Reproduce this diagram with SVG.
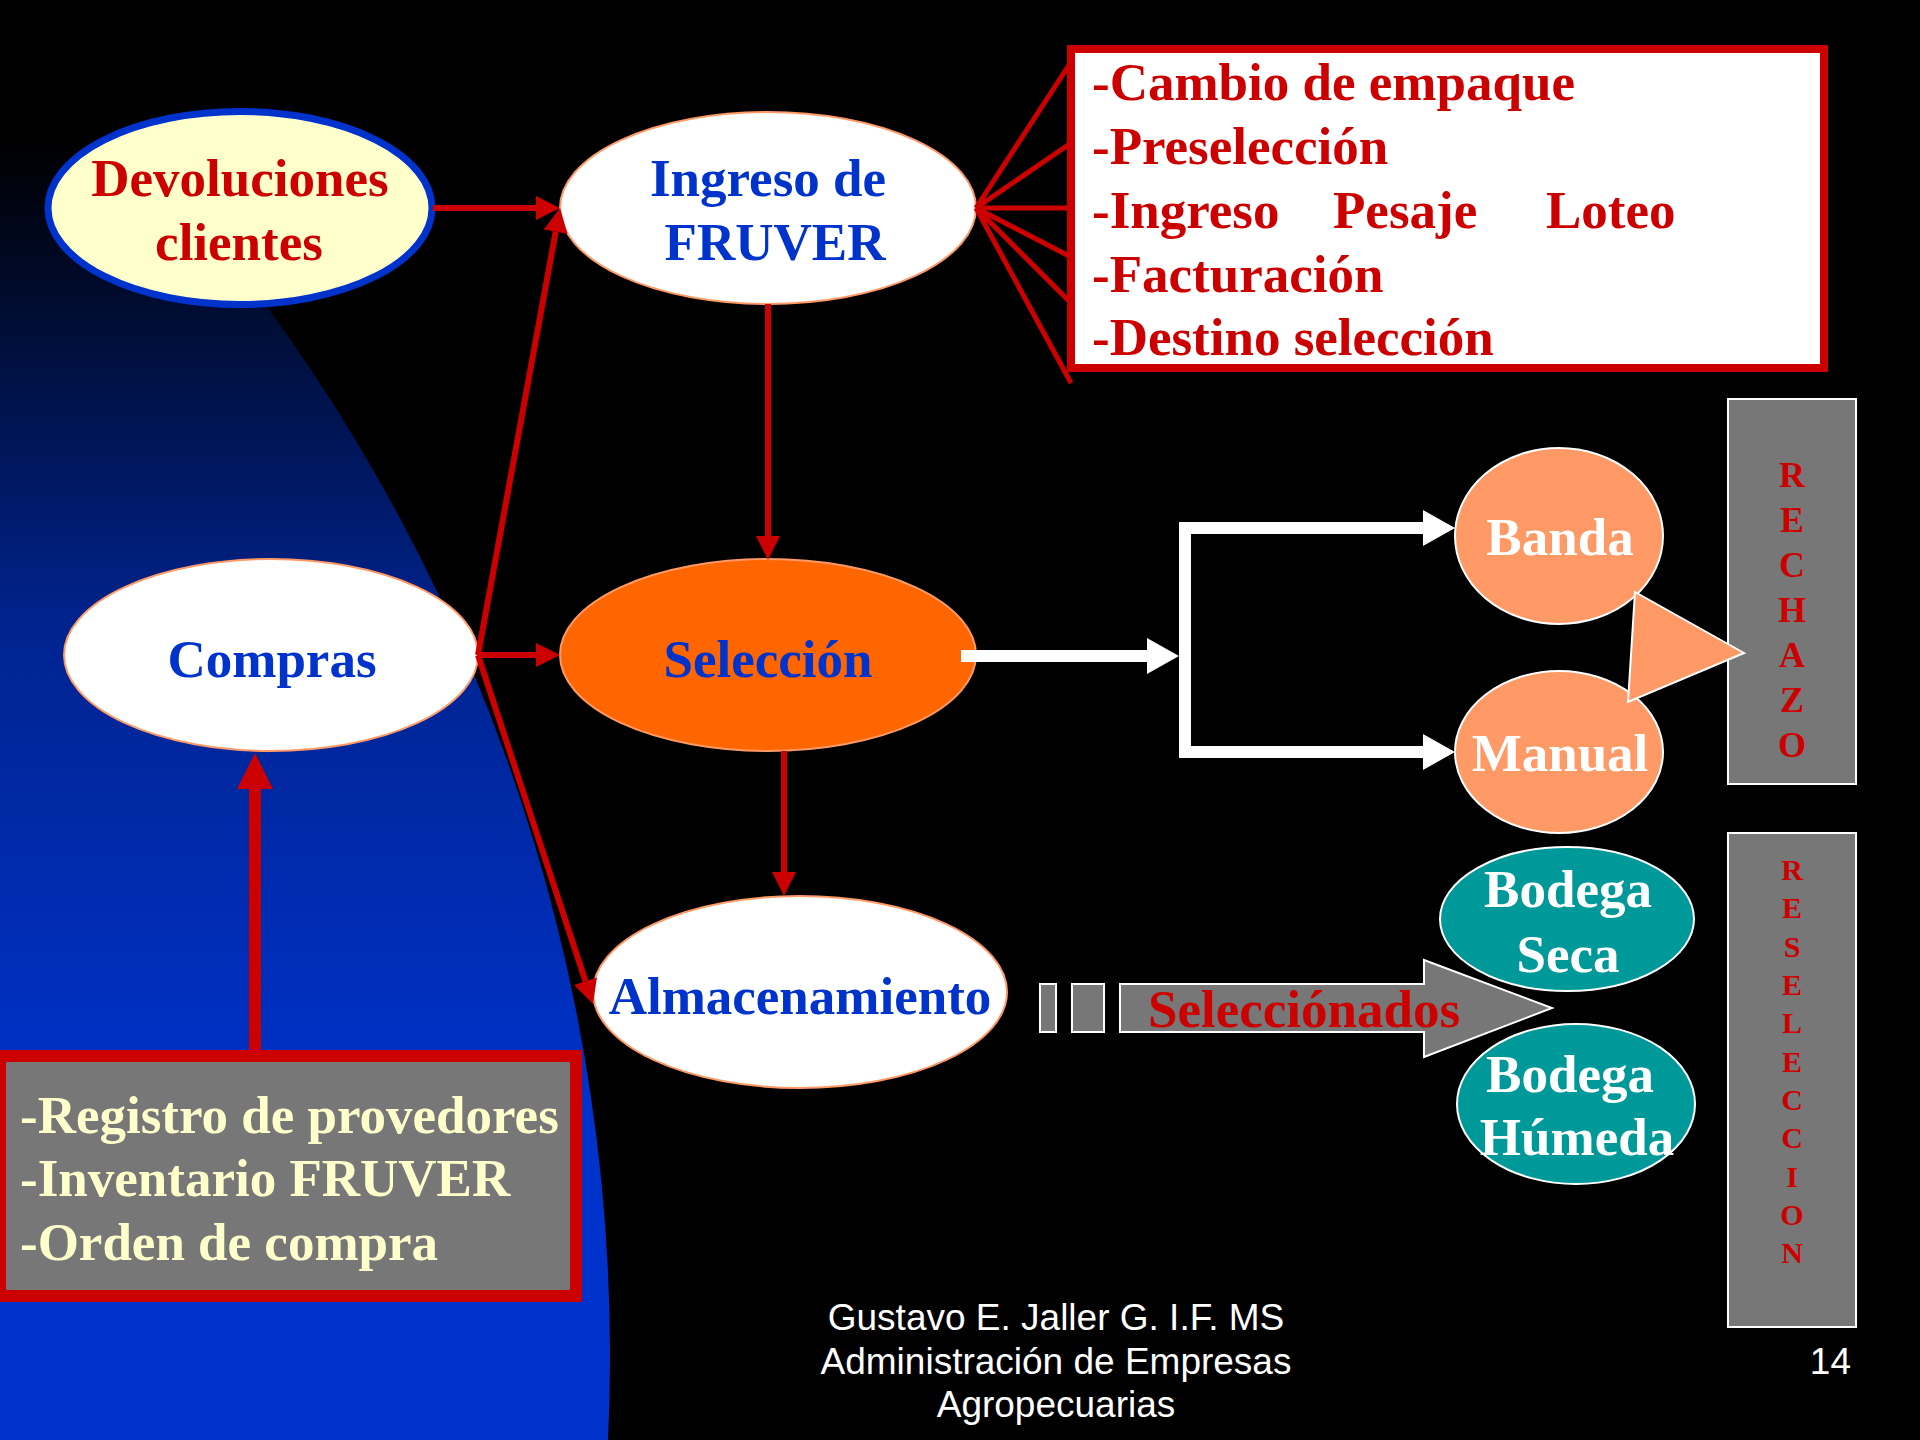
<svg xmlns="http://www.w3.org/2000/svg" width="1920" height="1440" viewBox="0 0 1920 1440">
<defs>
<linearGradient id="bg" gradientUnits="userSpaceOnUse" x1="0" y1="140" x2="0" y2="1120">
<stop offset="0" stop-color="#000000"/>
<stop offset="0.5" stop-color="#00238f"/>
<stop offset="1" stop-color="#0033cc"/>
</linearGradient>
<marker id="ahRed" markerUnits="userSpaceOnUse" markerWidth="26" markerHeight="26" refX="0" refY="12" orient="auto" overflow="visible">
<path d="M0,0 L24,12 L0,24 Z" fill="#cc0000"/>
</marker>
<marker id="ahRedBig" markerUnits="userSpaceOnUse" markerWidth="38" markerHeight="38" refX="0" refY="18" orient="auto" overflow="visible">
<path d="M0,0 L36,18 L0,36 Z" fill="#cc0000"/>
</marker>
<marker id="ahWhite" markerUnits="userSpaceOnUse" markerWidth="34" markerHeight="38" refX="0" refY="18" orient="auto" overflow="visible">
<path d="M0,0 L32,18 L0,36 Z" fill="#ffffff"/>
</marker>
</defs>
<style>
.serif{font-family:"Liberation Serif","Times New Roman",serif;font-weight:bold;}
.sans{font-family:"Liberation Sans",Arial,sans-serif;}
.t53{font-size:53px;}
.blue{fill:#0033cc;}
.red{fill:#cc0000;}
.white{fill:#ffffff;}
.cream{fill:#ffffcc;}
.wellipse{fill:#ffffff;stroke:#ff9966;stroke-width:2;}
.redline{stroke:#cc0000;stroke-width:6;fill:none;}
.fan{stroke:#cc0000;stroke-width:5;fill:none;}
.whiteline{stroke:#ffffff;stroke-width:12;fill:none;stroke-linejoin:miter;}
.greybox{fill:#777777;stroke:#ffffff;stroke-width:2;}
</style>
<rect x="0" y="0" width="1920" height="1440" fill="#000000"/>
<circle cx="-1166" cy="1356" r="1776" fill="url(#bg)"/>

<g id="devoluciones">
<ellipse cx="240" cy="208" rx="192" ry="96.5" fill="#ffffcc" stroke="#0033cc" stroke-width="7"/>
<text class="serif t53 red" x="240" y="196" text-anchor="middle">Devoluciones</text>
<text class="serif t53 red" x="239" y="260" text-anchor="middle">clientes</text>
</g>

<g id="ingreso">
<ellipse class="wellipse" cx="768" cy="208" rx="208" ry="96"/>
<text class="serif t53 blue" x="768" y="196" text-anchor="middle">Ingreso de</text>
<text class="serif t53 blue" x="775" y="260" text-anchor="middle">FRUVER</text>
</g>

<g id="ingreso-tareas">
<rect x="1071" y="49" width="753" height="319" fill="#ffffff" stroke="#cc0000" stroke-width="8"/>
<text class="serif t53 red" x="1092" y="100">-Cambio de empaque</text>
<text class="serif t53 red" x="1092" y="164">-Preselección</text>
<text class="serif t53 red" y="228"><tspan x="1092">-Ingreso</tspan><tspan x="1333">Pesaje</tspan><tspan x="1546">Loteo</tspan></text>
<text class="serif t53 red" x="1092" y="292">-Facturación</text>
<text class="serif t53 red" x="1092" y="355">-Destino selección</text>
</g>

<g id="compras">
<ellipse class="wellipse" cx="271" cy="655" rx="207" ry="96"/>
<text class="serif t53 blue" x="272" y="677" text-anchor="middle">Compras</text>
</g>

<g id="seleccion">
<ellipse cx="768" cy="655" rx="208" ry="96" fill="#ff6600" stroke="#ff9966" stroke-width="2"/>
<text class="serif t53 blue" x="768" y="677" text-anchor="middle">Selección</text>
</g>

<g id="almacenamiento">
<ellipse class="wellipse" cx="800" cy="992" rx="207" ry="96"/>
<text class="serif t53 blue" x="800" y="1014" text-anchor="middle">Almacenamiento</text>
</g>

<g id="compras-tareas">
<rect x="0" y="1056" width="576" height="240" fill="#777777" stroke="#cc0000" stroke-width="12"/>
<text class="serif t53 cream" x="20" y="1133">-Registro de provedores</text>
<text class="serif t53 cream" x="20" y="1196">-Inventario FRUVER</text>
<text class="serif t53 cream" x="20" y="1260">-Orden de compra</text>
</g>

<g id="banda">
<ellipse cx="1559" cy="536" rx="104" ry="88" fill="#ff9966" stroke="#ffffff" stroke-width="2"/>
<text class="serif t53 white" x="1560" y="555" text-anchor="middle">Banda</text>
</g>

<g id="manual">
<ellipse cx="1559" cy="752" rx="104" ry="81" fill="#ff9966" stroke="#ffffff" stroke-width="2"/>
<text class="serif t53 white" x="1560" y="771" text-anchor="middle">Manual</text>
</g>

<g id="rechazo">
<rect class="greybox" x="1728" y="399" width="128" height="385"/>
<g class="serif red" font-size="36" text-anchor="middle">
<text x="1792" y="487">R</text>
<text x="1792" y="532">E</text>
<text x="1792" y="577">C</text>
<text x="1792" y="622">H</text>
<text x="1792" y="667">A</text>
<text x="1792" y="712">Z</text>
<text x="1792" y="757">O</text>
</g>
</g>

<g id="rechazo-flecha">
<polygon points="1635,592 1744,653 1628,702" fill="#ff9966" stroke="#ffffff" stroke-width="2"/>
</g>

<g id="seleccionados">
<rect class="greybox" x="1040" y="984" width="16" height="48"/>
<rect class="greybox" x="1072" y="984" width="32" height="48"/>
<polygon class="greybox" points="1120,984 1424,984 1424,960 1552,1008 1424,1057 1424,1032 1120,1032"/>
<text class="serif t53 red" x="1148" y="1027">Selecciónados</text>
</g>

<g id="bodega-seca">
<ellipse cx="1567" cy="919" rx="127" ry="72" fill="#009999" stroke="#ffffff" stroke-width="2"/>
<text class="serif t53 white" x="1568" y="907" text-anchor="middle">Bodega</text>
<text class="serif t53 white" x="1568" y="972" text-anchor="middle">Seca</text>
</g>

<g id="bodega-humeda">
<ellipse cx="1576" cy="1104" rx="119" ry="80" fill="#009999" stroke="#ffffff" stroke-width="2"/>
<text class="serif t53 white" x="1570" y="1092" text-anchor="middle">Bodega</text>
<text class="serif t53 white" x="1577" y="1155" text-anchor="middle">Húmeda</text>
</g>

<g id="reseleccion">
<rect class="greybox" x="1728" y="833" width="128" height="494"/>
<g class="serif red" font-size="30" text-anchor="middle">
<text x="1792" y="880">R</text>
<text x="1792" y="918">E</text>
<text x="1792" y="957">S</text>
<text x="1792" y="995">E</text>
<text x="1792" y="1033">L</text>
<text x="1792" y="1072">E</text>
<text x="1792" y="1110">C</text>
<text x="1792" y="1148">C</text>
<text x="1792" y="1187">I</text>
<text x="1792" y="1225">O</text>
<text x="1792" y="1263">N</text>
</g>
</g>

<g id="connectors">
<line class="redline" x1="433" y1="208" x2="536" y2="208" marker-end="url(#ahRed)"/>
<line class="redline" x1="478" y1="655" x2="555.7" y2="231.6" marker-end="url(#ahRed)"/>
<line class="redline" x1="478" y1="655" x2="536" y2="655" marker-end="url(#ahRed)"/>
<line class="redline" x1="478" y1="655" x2="585.5" y2="981.2" marker-end="url(#ahRed)"/>
<line class="redline" x1="768" y1="304" x2="768" y2="536" marker-end="url(#ahRed)"/>
<line class="redline" x1="784" y1="751" x2="784" y2="872" marker-end="url(#ahRed)"/>
<line stroke="#cc0000" stroke-width="12" x1="255" y1="1050" x2="255" y2="789" marker-end="url(#ahRedBig)"/>
<line class="fan" x1="976" y1="208" x2="1071" y2="62"/>
<line class="fan" x1="976" y1="208" x2="1071" y2="143"/>
<line class="fan" x1="976" y1="208" x2="1071" y2="208"/>
<line class="fan" x1="976" y1="208" x2="1071" y2="257"/>
<line class="fan" x1="976" y1="208" x2="1071" y2="303"/>
<line class="fan" x1="976" y1="208" x2="1071" y2="383"/>
<line class="whiteline" x1="961" y1="656" x2="1147" y2="656" marker-end="url(#ahWhite)"/>
<path class="whiteline" d="M1185,640 V528 H1423" marker-end="url(#ahWhite)"/>
<path class="whiteline" d="M1185,640 V752 H1423" marker-end="url(#ahWhite)"/>
</g>

<g id="footer">
<text class="sans white" font-size="37" x="1056" y="1330" text-anchor="middle">Gustavo E. Jaller G. I.F. MS</text>
<text class="sans white" font-size="37" x="1056" y="1374" text-anchor="middle">Administración de Empresas</text>
<text class="sans white" font-size="37" x="1056" y="1417" text-anchor="middle">Agropecuarias</text>
<text class="sans white" font-size="37" x="1851" y="1374" text-anchor="end">14</text>
</g>
</svg>
